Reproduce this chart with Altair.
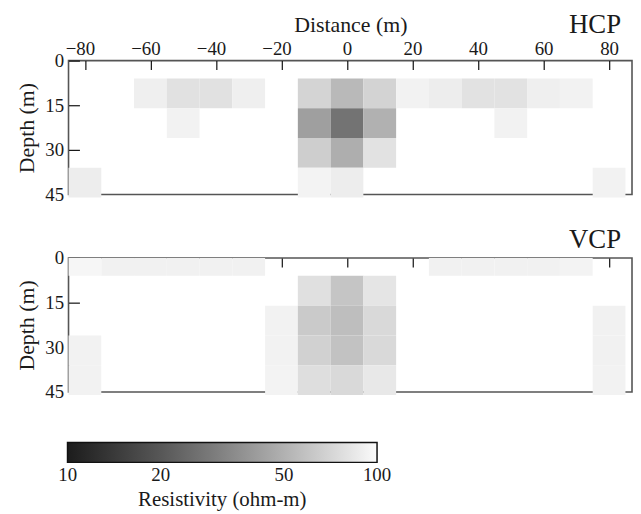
import altair as alt
import pandas as pd

# ---- data -------------------------------------------------------------
distance = [-80, -70, -60, -50, -40, -30, -20, -10, 0, 10, 20, 30, 40, 50, 60, 70, 80]
cell_width = 10
layer_top = [0, 6, 16, 26, 36]
layer_bottom = [6, 16, 26, 36, 46]

# resistivity (ohm-m), one row per layer, one value per distance
hcp = [
    [100, 100, 100, 100, 100, 100, 100, 100, 100, 100, 100, 100, 100, 100, 100, 100, 100],
    [100, 100, 90, 79, 79, 90, 100, 70, 54, 69, 92, 88, 80, 80, 90, 92, 100],
    [100, 100, 100, 92, 100, 100, 100, 42, 27, 50, 100, 100, 100, 92, 100, 100, 100],
    [100, 100, 100, 100, 100, 100, 100, 66, 49, 80, 100, 100, 100, 100, 100, 100, 100],
    [88, 100, 100, 100, 100, 100, 100, 93, 88, 100, 100, 100, 100, 100, 100, 100, 92],
]
vcp = [
    [96, 91, 91, 91, 91, 91, 100, 100, 100, 100, 100, 91, 91, 91, 91, 93, 100],
    [100, 100, 100, 100, 100, 100, 100, 78, 61, 82, 100, 100, 100, 100, 100, 100, 100],
    [100, 100, 100, 100, 100, 100, 92, 64, 57, 73, 100, 100, 100, 100, 100, 100, 91],
    [92, 100, 100, 100, 100, 100, 92, 68, 59, 73, 100, 100, 100, 100, 100, 100, 91],
    [92, 100, 100, 100, 100, 100, 93, 77, 73, 84, 100, 100, 100, 100, 100, 100, 92],
]
x_ticks = [-80, -60, -40, -20, 0, 20, 40, 60, 80]
depth_ticks = [0, 15, 30, 45]
cbar_ticks = [10.01, 20, 50, 99.99]   # 10, 20, 50, 100 (ends nudged so labels centre)

# ---- helpers ----------------------------------------------------------
FONT = "Liberation Serif"
TXT = "#1a1a1a"
W, H = 568, 135
GAP = 64
DARK, LIGHT = "#1c1c1c", "#fbfbfb"


def cells(grid):
    rows = []
    for i, row in enumerate(grid):
        for j, v in enumerate(row):
            rows.append(dict(x0=distance[j] - cell_width / 2, x1=distance[j] + cell_width / 2,
                             d0=layer_top[i], d1=layer_bottom[i], res=v))
    return pd.DataFrame(rows)


xscale = alt.Scale(domain=[-85, 87], nice=False, zero=False)
yscale = alt.Scale(domain=[0, 45], reverse=True, nice=False, zero=False)
cscale = alt.Scale(type="log", domain=[10, 100], range=[DARK, LIGHT], clamp=True)

legend = alt.Legend(
    type="gradient",
    orient="none", legendX=-1, legendY=2 * H + GAP + 51, direction="horizontal",
    gradientLength=312, gradientThickness=20, gradientStrokeColor="#111",
    gradientStrokeWidth=1.5, values=cbar_ticks, format="d",
    labelFont=FONT, labelFontSize=19, labelColor=TXT, labelOffset=4,
    titleOrient="bottom", titleAnchor="middle", titleFont=FONT, titleFontSize=21,
    titleFontWeight="normal", titleColor=TXT, titlePadding=4, padding=0, titleLimit=400,
)

neg_shift = {"condition": {"test": "datum.value < 0", "value": -5}, "value": 0}


def panel(grid, name, show_labels, name_y):
    if show_labels:
        xenc = alt.X("x0:Q", scale=xscale, title="Distance (m)",
                     axis=alt.Axis(orient="top", values=x_ticks, offset=-9, tickSize=9,
                                   domain=False, grid=False, labelPadding=2, titlePadding=3,
                                   labelOffset=neg_shift,
                                   labelFont=FONT, labelFontSize=19, labelColor=TXT,
                                   titleFont=FONT, titleFontSize=22, titleFontWeight="normal",
                                   titleColor=TXT, tickColor="#111", tickWidth=1.2))
    else:
        xenc = alt.X("x0:Q", scale=xscale, title=None,
                     axis=alt.Axis(orient="top", values=x_ticks, offset=-9, tickSize=9,
                                   domain=False, grid=False, labels=False,
                                   tickColor="#111", tickWidth=1.2))
    yenc = alt.Y("d0:Q", scale=yscale, title="Depth (m)",
                 axis=alt.Axis(orient="left", values=depth_ticks, offset=-11, tickSize=11,
                               domain=False, grid=False, labelPadding=5, titlePadding=6,
                               labelFont=FONT, labelFontSize=19, labelColor=TXT,
                               titleFont=FONT, titleFontSize=22, titleFontWeight="normal",
                               titleColor=TXT, tickColor="#111", tickWidth=1.2))
    rects = alt.Chart(cells(grid)).transform_filter("datum.res < 100").mark_rect().encode(
        x=xenc, x2="x1:Q", y=yenc, y2="d1:Q",
        color=alt.Color("res:Q", scale=cscale, title="Resistivity (ohm-m)", legend=legend),
    )
    label = alt.Chart(pd.DataFrame({"panel": [name]})).mark_text(
        font=FONT, fontSize=27, align="right", baseline="alphabetic", color=TXT
    ).encode(text="panel:N", x=alt.value(W - 11), y=alt.value(name_y))
    return alt.layer(rects, label).properties(width=W, height=H)


top = panel(hcp, "HCP", True, -28)
bottom = panel(vcp, "VCP", False, -10)

chart = alt.vconcat(top, bottom, spacing=GAP, bounds="flush").resolve_scale(
    color="shared"
).properties(
    padding={"left": 7, "top": 0, "right": 0, "bottom": 0}
).configure_view(stroke="#555555", strokeWidth=1.6)

chart.save("out.html", embed_options={"renderer": "svg", "actions": False})
